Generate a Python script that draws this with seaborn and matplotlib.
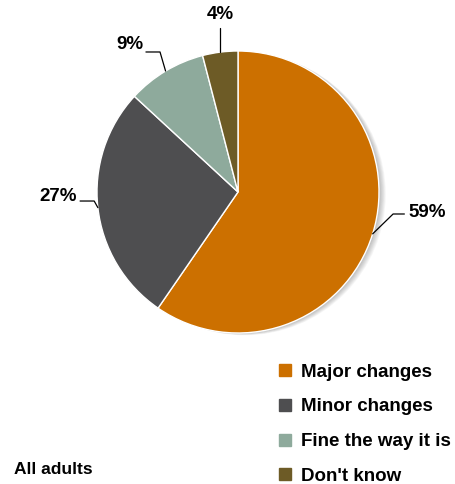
import numpy as np
import matplotlib
matplotlib.use("Agg")
import matplotlib.pyplot as plt
import seaborn as sns
from matplotlib.lines import Line2D
from matplotlib.patches import Circle

# データ
categories = ["Major changes", "Minor changes", "Fine the way it is", "Don't know"]
values = [59, 27, 9, 4]
colors = ["#CC7000", "#4E4E50", "#8EAA9C", "#6D5B26"]
group_label = "All adults"

sns.set_theme(style="white")
plt.rcParams['font.family'] = ['Liberation Sans', 'DejaVu Sans']
plt.rcParams['font.weight'] = 'bold'
plt.rcParams['text.color'] = 'black'

fig = plt.figure(figsize=(4.55, 4.84), dpi=100)
ax = fig.add_axes([0, 0, 1, 1])
# 1 data unit = pie radius (141 px); centre at (238, 192) px from top-left
R = 141.0

# soft shadow to the right
for k in range(1, 9):
    ax.add_patch(Circle((k * 0.006, -k * 0.002), 1.0, color='black',
                        alpha=0.035, lw=0, zorder=0))

wedges, _ = ax.pie(values, colors=colors, startangle=90, counterclock=False,
                   radius=1.0, center=(0, 0), frame=True,
                   wedgeprops=dict(edgecolor='white', linewidth=1.0))
for w in wedges:
    w.set_zorder(2)
ax.set_xlim(-238 / R, (455 - 238) / R)
ax.set_ylim(-(484 - 192) / R, 192 / R)
ax.set_aspect('equal')
ax.axis('off')

def mid(w):
    return np.deg2rad((w.theta1 + w.theta2) / 2)

lab_fs = 13.5
lk = dict(color='black', lw=0.9, zorder=3)

# 59%
a = mid(wedges[0])
p0 = np.array([np.cos(a), np.sin(a)])
elbow = np.array([1.10, -0.156])
ax.plot([p0[0], elbow[0], elbow[0] + 0.08], [p0[1], elbow[1], elbow[1]], **lk)
ax.text(elbow[0] + 0.11, elbow[1] + 0.01, f"{values[0]}%", fontsize=lab_fs,
        fontweight='bold', ha='left', va='center')

# 27%
a = mid(wedges[1])
p0 = np.array([np.cos(a), np.sin(a)])
elbow = np.array([-1.02, -0.064])
ax.plot([p0[0], elbow[0], elbow[0] - 0.10], [p0[1], elbow[1], elbow[1]], **lk)
ax.text(elbow[0] - 0.12, elbow[1] + 0.03, f"{values[1]}%", fontsize=lab_fs,
        fontweight='bold', ha='right', va='center')

# 9%
a = mid(wedges[2])
p0 = np.array([np.cos(a), np.sin(a)])
elbow = np.array([-0.553, 0.993])
ax.plot([p0[0], elbow[0], elbow[0] - 0.10], [p0[1], elbow[1], elbow[1]], **lk)
ax.text(elbow[0] - 0.12, elbow[1] + 0.05, f"{values[2]}%", fontsize=lab_fs,
        fontweight='bold', ha='right', va='center')

# 4%
a = mid(wedges[3])
p0 = np.array([np.cos(a), np.sin(a)])
ax.plot([p0[0], p0[0]], [p0[1], 1.165], **lk)
ax.text(p0[0], 1.20, f"{values[3]}%", fontsize=lab_fs,
        fontweight='bold', ha='center', va='bottom')

# 凡例
handles = [Line2D([0], [0], marker='s', linestyle='none', markersize=8,
                  markerfacecolor=c, markeredgecolor=c) for c in colors]
leg = fig.legend(handles, categories, loc='upper left',
                 bbox_to_anchor=(268 / 455, 1 - 356 / 484), frameon=False,
                 prop=dict(size=13.5, weight='bold'), handletextpad=0.35,
                 labelspacing=0.94, handlelength=1.0, borderaxespad=0)
for t in leg.get_texts():
    t.set_color('black')

fig.text(14 / 455, 1 - 470 / 484, group_label, fontsize=12.5,
         fontweight='bold', ha='left', va='center', color='black')

fig.savefig("out.png", dpi=100)
